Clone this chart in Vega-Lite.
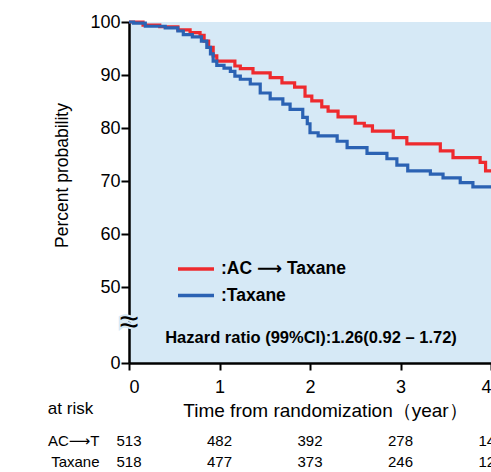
{
  "$schema": "https://vega.github.io/schema/vega-lite/v6.json",
  "padding": {"left": 47, "top": 13, "right": 0, "bottom": 0},
  "spacing": -21,
  "config": {
    "font": "Liberation Sans, DejaVu Sans",
    "axis": {"grid": false, "labelColor": "#000", "titleColor": "#000", "domainColor": "#000", "tickColor": "#000", "titleFontWeight": "normal"}
  },
  "datasets": {
    "km": [
      {"t": 0, "s": 100, "g": "AC ⟶ Taxane"},
      {"t": 0.155, "s": 99.4, "g": "AC ⟶ Taxane"},
      {"t": 0.34, "s": 99.1, "g": "AC ⟶ Taxane"},
      {"t": 0.54, "s": 98.5, "g": "AC ⟶ Taxane"},
      {"t": 0.675, "s": 98.0, "g": "AC ⟶ Taxane"},
      {"t": 0.785, "s": 97.5, "g": "AC ⟶ Taxane"},
      {"t": 0.83, "s": 96.4, "g": "AC ⟶ Taxane"},
      {"t": 0.88, "s": 95.2, "g": "AC ⟶ Taxane"},
      {"t": 0.93, "s": 93.6, "g": "AC ⟶ Taxane"},
      {"t": 0.97, "s": 92.6, "g": "AC ⟶ Taxane"},
      {"t": 1.17, "s": 91.7, "g": "AC ⟶ Taxane"},
      {"t": 1.23, "s": 91.2, "g": "AC ⟶ Taxane"},
      {"t": 1.37, "s": 90.4, "g": "AC ⟶ Taxane"},
      {"t": 1.56, "s": 89.5, "g": "AC ⟶ Taxane"},
      {"t": 1.69, "s": 88.5, "g": "AC ⟶ Taxane"},
      {"t": 1.83, "s": 87.7, "g": "AC ⟶ Taxane"},
      {"t": 1.945, "s": 86.0, "g": "AC ⟶ Taxane"},
      {"t": 2.02, "s": 85.1, "g": "AC ⟶ Taxane"},
      {"t": 2.13, "s": 84.0, "g": "AC ⟶ Taxane"},
      {"t": 2.2, "s": 83.2, "g": "AC ⟶ Taxane"},
      {"t": 2.31, "s": 82.1, "g": "AC ⟶ Taxane"},
      {"t": 2.5, "s": 80.9, "g": "AC ⟶ Taxane"},
      {"t": 2.6, "s": 80.4, "g": "AC ⟶ Taxane"},
      {"t": 2.69, "s": 79.4, "g": "AC ⟶ Taxane"},
      {"t": 2.92, "s": 78.2, "g": "AC ⟶ Taxane"},
      {"t": 3.07, "s": 77.0, "g": "AC ⟶ Taxane"},
      {"t": 3.44, "s": 75.7, "g": "AC ⟶ Taxane"},
      {"t": 3.58, "s": 74.4, "g": "AC ⟶ Taxane"},
      {"t": 3.88, "s": 73.5, "g": "AC ⟶ Taxane"},
      {"t": 3.94, "s": 71.9, "g": "AC ⟶ Taxane"},
      {"t": 4.0, "s": 71.9, "g": "AC ⟶ Taxane"},
      {"t": 0, "s": 100, "g": "Taxane"},
      {"t": 0.05, "s": 99.8, "g": "Taxane"},
      {"t": 0.18, "s": 99.2, "g": "Taxane"},
      {"t": 0.4, "s": 98.9, "g": "Taxane"},
      {"t": 0.54, "s": 98.3, "g": "Taxane"},
      {"t": 0.6, "s": 97.6, "g": "Taxane"},
      {"t": 0.7, "s": 97.2, "g": "Taxane"},
      {"t": 0.8, "s": 96.4, "g": "Taxane"},
      {"t": 0.86, "s": 95.2, "g": "Taxane"},
      {"t": 0.9, "s": 94.0, "g": "Taxane"},
      {"t": 0.93, "s": 92.6, "g": "Taxane"},
      {"t": 0.97, "s": 91.8, "g": "Taxane"},
      {"t": 1.05, "s": 91.3, "g": "Taxane"},
      {"t": 1.12, "s": 90.7, "g": "Taxane"},
      {"t": 1.17, "s": 89.8, "g": "Taxane"},
      {"t": 1.23, "s": 89.2, "g": "Taxane"},
      {"t": 1.34, "s": 88.3, "g": "Taxane"},
      {"t": 1.45, "s": 86.6, "g": "Taxane"},
      {"t": 1.56, "s": 85.5, "g": "Taxane"},
      {"t": 1.7, "s": 84.5, "g": "Taxane"},
      {"t": 1.78, "s": 83.5, "g": "Taxane"},
      {"t": 1.92, "s": 82.0, "g": "Taxane"},
      {"t": 1.97, "s": 80.8, "g": "Taxane"},
      {"t": 2.0, "s": 79.1, "g": "Taxane"},
      {"t": 2.09, "s": 78.5, "g": "Taxane"},
      {"t": 2.3, "s": 77.5, "g": "Taxane"},
      {"t": 2.41, "s": 76.3, "g": "Taxane"},
      {"t": 2.63, "s": 75.2, "g": "Taxane"},
      {"t": 2.85, "s": 74.2, "g": "Taxane"},
      {"t": 2.96, "s": 73.0, "g": "Taxane"},
      {"t": 3.08, "s": 71.9, "g": "Taxane"},
      {"t": 3.33, "s": 71.3, "g": "Taxane"},
      {"t": 3.47, "s": 70.6, "g": "Taxane"},
      {"t": 3.66, "s": 69.7, "g": "Taxane"},
      {"t": 3.8, "s": 68.9, "g": "Taxane"},
      {"t": 4.0, "s": 68.7, "g": "Taxane"}
    ],
    "risk": [
      {"t": 0, "g": "AC⟶T", "n": 513},
      {"t": 1, "g": "AC⟶T", "n": 482},
      {"t": 2, "g": "AC⟶T", "n": 392},
      {"t": 3, "g": "AC⟶T", "n": 278},
      {"t": 4, "g": "AC⟶T", "n": 145},
      {"t": 0, "g": "Taxane", "n": 518},
      {"t": 1, "g": "Taxane", "n": 477},
      {"t": 2, "g": "Taxane", "n": 373},
      {"t": 3, "g": "Taxane", "n": 246},
      {"t": 4, "g": "Taxane", "n": 126}
    ]
  },
  "vconcat": [
    {
      "width": 362,
      "height": 341,
      "view": {"fill": "#d6e9f6", "stroke": null},
      "layer": [
        {
          "data": {"name": "km"},
          "mark": {"type": "line", "interpolate": "step-after", "strokeWidth": 3.2},
          "encoding": {
            "x": {"field": "t", "type": "quantitative", "scale": {"domain": [0, 4], "nice": false},
              "axis": {"values": [0, 1, 2, 3, 4], "format": "d", "labelFontSize": 18, "tickSize": 7, "tickWidth": 2, "domainWidth": 2.5, "labelPadding": 8,
                "title": "Time from randomization（year）", "titleFontSize": 19, "titlePadding": 5, "titleX": 196}},
            "y": {"field": "s", "type": "quantitative", "scale": {"domain": [0, 50, 100], "range": [341, 265, 0], "nice": false, "zero": false},
              "axis": {"values": [0, 50, 60, 70, 80, 90, 100], "labelFontSize": 18, "tickSize": 8, "tickWidth": 2, "domainWidth": 2.5, "labelPadding": 1,
                "title": "Percent probability", "titleFontSize": 17.5, "titlePadding": 18, "titleY": 153}},
            "color": {"field": "g", "type": "nominal",
              "scale": {"domain": ["AC ⟶ Taxane", "Taxane"], "range": ["#ee2a2e", "#2b62b3"]},
              "legend": {"orient": "none", "legendX": 47, "legendY": 236, "title": null, "symbolType": "stroke", "symbolSize": 1296, "symbolStrokeWidth": 3.5, "clipHeight": 22,
                "labelFontSize": 17.5, "labelFontWeight": "bold", "labelColor": "#000", "labelOffset": 5, "rowPadding": 4.5, "padding": 0, "labelExpr": "':' + datum.label"}}
          }
        },
        {
          "data": {"values": [{}]},
          "mark": {"type": "text", "text": "≈", "fontSize": 34, "stroke": "#d6e9f6", "strokeWidth": 4, "fill": "#d6e9f6", "baseline": "middle"},
          "encoding": {"x": {"datum": 0, "type": "quantitative"}, "y": {"datum": 26.3, "type": "quantitative"}}
        },
        {
          "data": {"values": [{}]},
          "mark": {"type": "text", "text": "≈", "fontSize": 34, "color": "#000", "baseline": "middle"},
          "encoding": {"x": {"datum": 0, "type": "quantitative"}, "y": {"datum": 26.3, "type": "quantitative"}}
        },
        {
          "data": {"values": [{}]},
          "mark": {"type": "text", "text": "Hazard ratio (99%CI):1.26(0.92 – 1.72)", "fontSize": 16.5, "fontWeight": "bold", "color": "#000", "align": "left", "baseline": "middle"},
          "encoding": {"x": {"datum": 0.4, "type": "quantitative"}, "y": {"datum": 16.5, "type": "quantitative"}}
        }
      ]
    },
    {
      "width": 362,
      "data": {"name": "risk"},
      "view": {"stroke": null},
      "mark": {"type": "text", "fontSize": 15, "color": "#000"},
      "encoding": {
        "x": {"field": "t", "type": "quantitative", "scale": {"domain": [0, 4], "nice": false}, "axis": null},
        "y": {"field": "g", "type": "nominal", "sort": ["AC⟶T", "Taxane"], "scale": {"type": "point"},
          "axis": {"domain": false, "ticks": false, "labelPadding": 30, "labelFontSize": 15, "title": "at risk", "titleAngle": 0, "titleFontSize": 17, "titleX": -59, "titleY": -22, "titleAlign": "center", "titleBaseline": "middle"}},
        "text": {"field": "n", "type": "nominal"}
      },
      "height": {"step": 21}
    }
  ]
}
